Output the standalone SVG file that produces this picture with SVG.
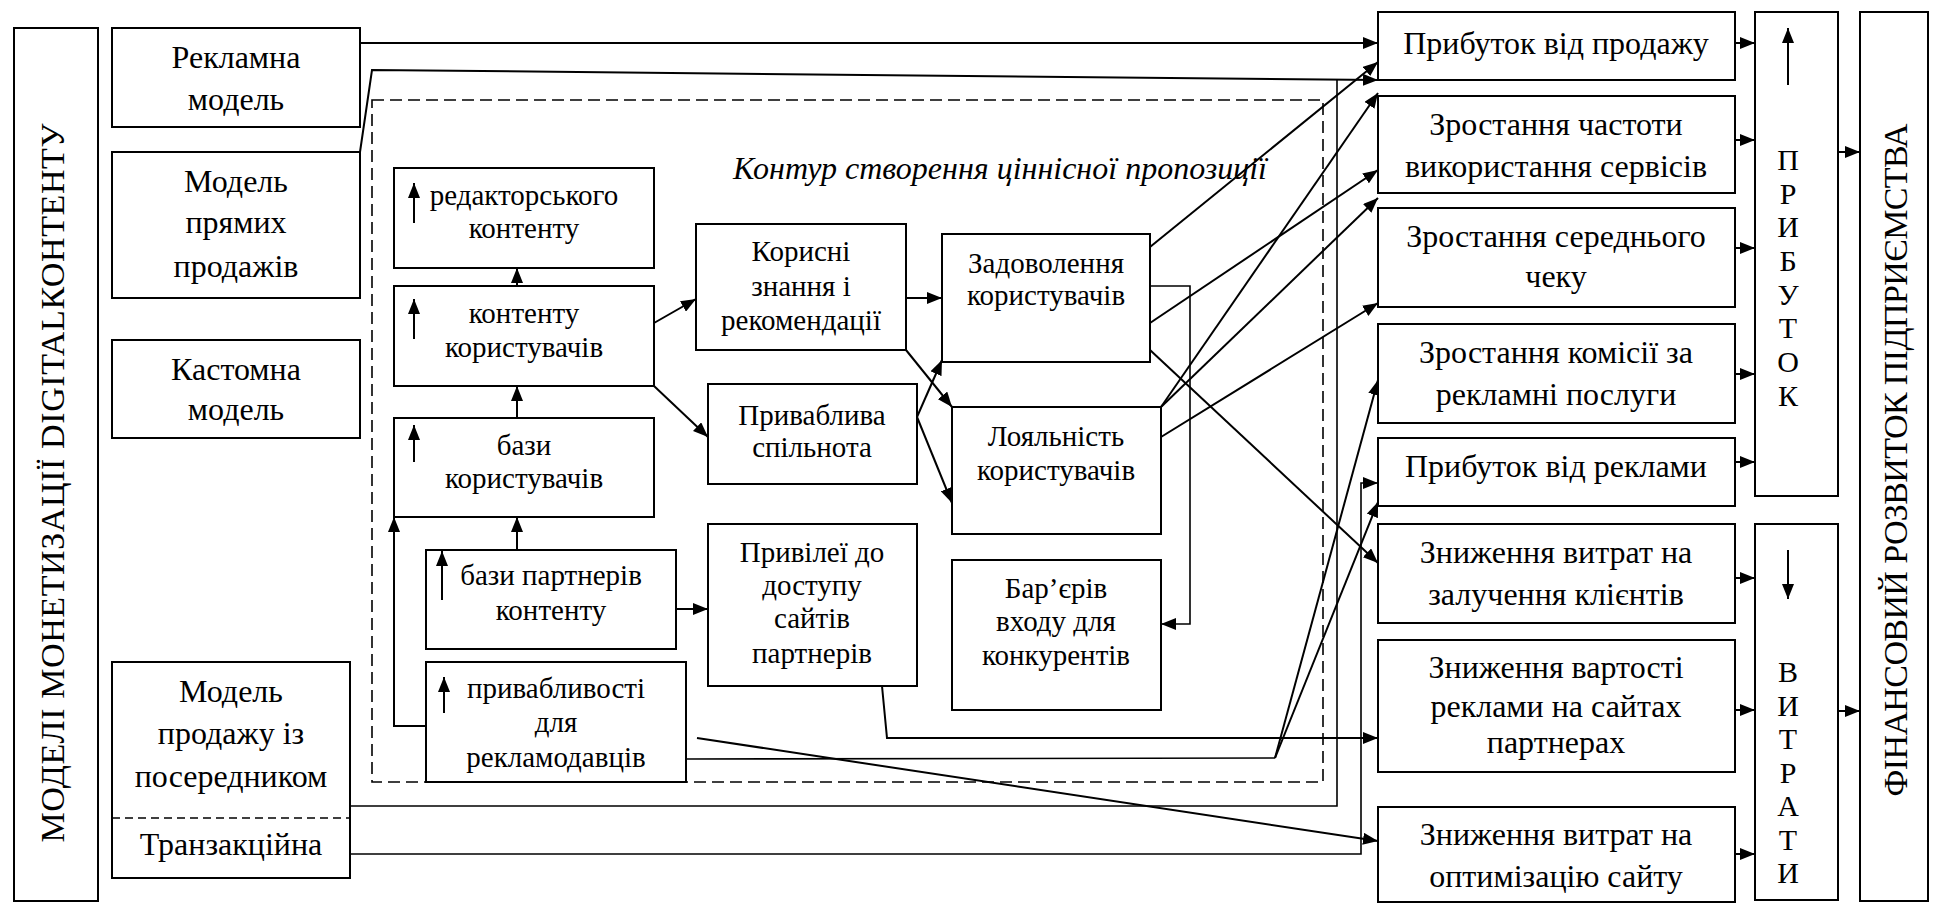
<svg xmlns="http://www.w3.org/2000/svg" width="1937" height="904" viewBox="0 0 1937 904">
<style>
.b{fill:#fff;stroke:#000;stroke-width:2}
.t{font-family:"Liberation Serif","Times New Roman",serif;font-size:32px;fill:#000;text-anchor:middle}
.s{font-family:"Liberation Serif","Times New Roman",serif;font-size:29px;fill:#000;text-anchor:middle}
.v{font-family:"Liberation Serif","Times New Roman",serif;font-size:30px;fill:#000;text-anchor:middle}
.r{font-family:"Liberation Serif","Times New Roman",serif;font-size:34px;fill:#000;text-anchor:middle}
.l{fill:none;stroke:#000;stroke-width:2}
.th{fill:none;stroke:#000;stroke-width:1.6}
.d{fill:none;stroke:#000;stroke-width:1.6;stroke-dasharray:12 6}
</style>
<defs>
<marker id="ah" markerWidth="15" markerHeight="12" refX="15" refY="6" orient="auto" markerUnits="userSpaceOnUse"><path d="M0,0 L15,6 L0,12 Z" fill="#000"/></marker>
</defs>
<rect width="1937" height="904" fill="#fff"/>

<rect class="d" x="372" y="100" width="951" height="682"/>
<text x="1000" y="179" style="font-family:'Liberation Serif','Times New Roman',serif;font-size:32px;font-style:italic;text-anchor:middle">Контур створення ціннісної пропозиції</text>

<g id="connectors">
<path class="l" d="M360,43 L1378,43" marker-end="url(#ah)"/>
<path class="l" d="M360,152 L372,70 L1378,80" marker-end="url(#ah)"/>
<path class="th" d="M350,806 L1337,806 L1337,80"/>
<path class="th" d="M350,854 L1361,854 L1361,483 L1378,483" marker-end="url(#ah)"/>
<path class="l" d="M517,286 L517,268" marker-end="url(#ah)"/>
<path class="l" d="M517,418 L517,386" marker-end="url(#ah)"/>
<path class="l" d="M517,550 L517,517" marker-end="url(#ah)"/>
<path class="l" d="M426,726 L394,726 L394,517" marker-end="url(#ah)"/>
<path class="l" d="M654,323 L696,299" marker-end="url(#ah)"/>
<path class="l" d="M654,386 L708,437" marker-end="url(#ah)"/>
<path class="l" d="M676,609 L708,609" marker-end="url(#ah)"/>
<path class="l" d="M906,298 L942,298" marker-end="url(#ah)"/>
<path class="l" d="M906,350 L952,407" marker-end="url(#ah)"/>
<path class="l" d="M917,417 L942,360" marker-end="url(#ah)"/>
<path class="l" d="M917,417 L952,503" marker-end="url(#ah)"/>
<path class="l" d="M1150,247 L1378,62" marker-end="url(#ah)"/>
<path class="l" d="M1150,323 L1378,170" marker-end="url(#ah)"/>
<path class="l" d="M1150,350 L1378,563" marker-end="url(#ah)"/>
<path class="th" d="M1150,286 L1190,286 L1190,624 L1161,624" marker-end="url(#ah)"/>
<path class="l" d="M1161,407 L1378,93" marker-end="url(#ah)"/>
<path class="l" d="M1161,407 L1378,198" marker-end="url(#ah)"/>
<path class="l" d="M1161,437 L1378,303" marker-end="url(#ah)"/>
<path class="l" d="M882,686 L887,738 L1378,738" marker-end="url(#ah)"/>
<path class="th" d="M686,759 L1275,758"/>
<path class="l" d="M1275,758 L1378,380" marker-end="url(#ah)"/>
<path class="l" d="M1275,758 L1378,502" marker-end="url(#ah)"/>
<path class="l" d="M697,738 L1378,841" marker-end="url(#ah)"/>
<path class="l" d="M1735,43 L1755,43" marker-end="url(#ah)"/>
<path class="l" d="M1735,140 L1755,140" marker-end="url(#ah)"/>
<path class="l" d="M1735,248 L1755,248" marker-end="url(#ah)"/>
<path class="l" d="M1735,374 L1755,374" marker-end="url(#ah)"/>
<path class="l" d="M1735,462 L1755,462" marker-end="url(#ah)"/>
<path class="l" d="M1735,578 L1755,578" marker-end="url(#ah)"/>
<path class="l" d="M1735,710 L1755,710" marker-end="url(#ah)"/>
<path class="l" d="M1735,854 L1755,854" marker-end="url(#ah)"/>
<path class="l" d="M1838,152 L1860,152" marker-end="url(#ah)"/>
<path class="l" d="M1838,711 L1860,711" marker-end="url(#ah)"/>
</g>

<g id="n-models"><rect class="b" x="14" y="28" width="84" height="873"/>
<text class="r" transform="translate(64,483) rotate(-90)" textLength="719" lengthAdjust="spacing">МОДЕЛІ МОНЕТИЗАЦІЇ DIGITALКОНТЕНТУ</text></g>
<g id="n-reklamna"><rect class="b" x="112" y="28" width="248" height="99"/>
<text class="t" x="236" y="68">Рекламна</text><text class="t" x="236" y="110">модель</text></g>
<g id="n-pryami"><rect class="b" x="112" y="152" width="248" height="146"/>
<text class="t" x="236" y="192">Модель</text><text class="t" x="236" y="233">прямих</text><text class="t" x="236" y="277">продажів</text></g>
<g id="n-kastomna"><rect class="b" x="112" y="340" width="248" height="98"/>
<text class="t" x="236" y="380">Кастомна</text><text class="t" x="236" y="420">модель</text></g>
<g id="n-poserednyk"><rect class="b" x="112" y="662" width="238" height="216"/>
<line x1="112" y1="818" x2="350" y2="818" stroke="#000" stroke-width="1.6" stroke-dasharray="8 5"/>
<text class="t" x="231" y="702">Модель</text><text class="t" x="231" y="744">продажу із</text><text class="t" x="231" y="787">посередником</text><text class="t" x="231" y="855">Транзакційна</text></g>

<g id="n-redaktor"><rect class="b" x="394" y="168" width="260" height="100"/>
<path class="l" d="M414,223 L414,183" marker-end="url(#ah)"/>
<text class="s" x="524" y="205">редакторського</text><text class="s" x="524" y="238">контенту</text></g>
<g id="n-kontent"><rect class="b" x="394" y="286" width="260" height="100"/>
<path class="l" d="M414,339 L414,299" marker-end="url(#ah)"/>
<text class="s" x="524" y="323">контенту</text><text class="s" x="524" y="357">користувачів</text></g>
<g id="n-bazy"><rect class="b" x="394" y="418" width="260" height="99"/>
<path class="l" d="M414,462 L414,425" marker-end="url(#ah)"/>
<text class="s" x="524" y="455">бази</text><text class="s" x="524" y="488">користувачів</text></g>
<g id="n-partnery"><rect class="b" x="426" y="550" width="250" height="99"/>
<path class="l" d="M442,600 L442,551" marker-end="url(#ah)"/>
<text class="s" x="551" y="585">бази партнерів</text><text class="s" x="551" y="620">контенту</text></g>
<g id="n-pryvablyvosti"><rect class="b" x="426" y="662" width="260" height="120"/>
<path class="l" d="M444,713 L444,677" marker-end="url(#ah)"/>
<text class="s" x="556" y="698">привабливості</text><text class="s" x="556" y="732">для</text><text class="s" x="556" y="767">рекламодавців</text></g>
<g id="n-korysni"><rect class="b" x="696" y="224" width="210" height="126"/>
<text class="s" x="801" y="261">Корисні</text><text class="s" x="801" y="296">знання і</text><text class="s" x="801" y="330">рекомендації</text></g>
<g id="n-spilnota"><rect class="b" x="708" y="384" width="209" height="100"/>
<text class="s" x="812" y="425">Приваблива</text><text class="s" x="812" y="457">спільнота</text></g>
<g id="n-pryvilei"><rect class="b" x="708" y="524" width="209" height="162"/>
<text class="s" x="812" y="562">Привілеї до</text><text class="s" x="812" y="595">доступу</text><text class="s" x="812" y="628">сайтів</text><text class="s" x="812" y="663">партнерів</text></g>
<g id="n-zadovolennia"><rect class="b" x="942" y="234" width="208" height="128"/>
<text class="s" x="1046" y="273">Задоволення</text><text class="s" x="1046" y="305">користувачів</text></g>
<g id="n-loialnist"><rect class="b" x="952" y="407" width="209" height="127"/>
<text class="s" x="1056" y="446">Лояльність</text><text class="s" x="1056" y="480">користувачів</text></g>
<g id="n-barieriv"><rect class="b" x="952" y="560" width="209" height="150"/>
<text class="s" x="1056" y="598">Бар’єрів</text><text class="s" x="1056" y="631">входу для</text><text class="s" x="1056" y="665">конкурентів</text></g>

<g id="n-prodazh"><rect class="b" x="1378" y="12" width="357" height="68"/>
<text class="t" x="1556" y="54">Прибуток від продажу</text></g>
<g id="n-chastota"><rect class="b" x="1378" y="96" width="357" height="97"/>
<text class="t" x="1556" y="135">Зростання частоти</text><text class="t" x="1556" y="177">використання сервісів</text></g>
<g id="n-chek"><rect class="b" x="1378" y="208" width="357" height="99"/>
<text class="t" x="1556" y="247">Зростання середнього</text><text class="t" x="1556" y="287">чеку</text></g>
<g id="n-komisiia"><rect class="b" x="1378" y="324" width="357" height="99"/>
<text class="t" x="1556" y="363">Зростання комісії за</text><text class="t" x="1556" y="405">рекламні послуги</text></g>
<g id="n-reklama"><rect class="b" x="1378" y="438" width="357" height="68"/>
<text class="t" x="1556" y="477">Прибуток від реклами</text></g>
<g id="n-zaluchennia"><rect class="b" x="1378" y="524" width="357" height="99"/>
<text class="t" x="1556" y="563">Зниження витрат на</text><text class="t" x="1556" y="605">залучення клієнтів</text></g>
<g id="n-vartist"><rect class="b" x="1378" y="640" width="357" height="132"/>
<text class="t" x="1556" y="678">Зниження вартості</text><text class="t" x="1556" y="717">реклами на сайтах</text><text class="t" x="1556" y="753">партнерах</text></g>
<g id="n-optymizatsiia"><rect class="b" x="1378" y="807" width="357" height="95"/>
<text class="t" x="1556" y="845">Зниження витрат на</text><text class="t" x="1556" y="887">оптимізацію сайту</text></g>

<g id="n-prybutok"><rect class="b" x="1755" y="12" width="83" height="484"/>
<path class="l" d="M1788,85 L1788,28" marker-end="url(#ah)"/>
<text class="v" x="1788" y="170">П</text><text class="v" x="1788" y="204">Р</text><text class="v" x="1788" y="237">И</text><text class="v" x="1788" y="271">Б</text><text class="v" x="1788" y="305">У</text><text class="v" x="1788" y="338">Т</text><text class="v" x="1788" y="372">О</text><text class="v" x="1788" y="406">К</text></g>
<g id="n-vytraty"><rect class="b" x="1755" y="524" width="83" height="376"/>
<path class="l" d="M1788,550 L1788,599" marker-end="url(#ah)"/>
<text class="v" x="1788" y="682">В</text><text class="v" x="1788" y="716">И</text><text class="v" x="1788" y="749">Т</text><text class="v" x="1788" y="783">Р</text><text class="v" x="1788" y="816">А</text><text class="v" x="1788" y="850">Т</text><text class="v" x="1788" y="883">И</text></g>
<g id="n-rozvytok"><rect class="b" x="1860" y="12" width="68" height="889"/>
<text class="r" transform="translate(1907,460) rotate(-90)" textLength="673" lengthAdjust="spacing">ФІНАНСОВИЙ РОЗВИТОК ПІДПРИЄМСТВА</text></g>
</svg>
